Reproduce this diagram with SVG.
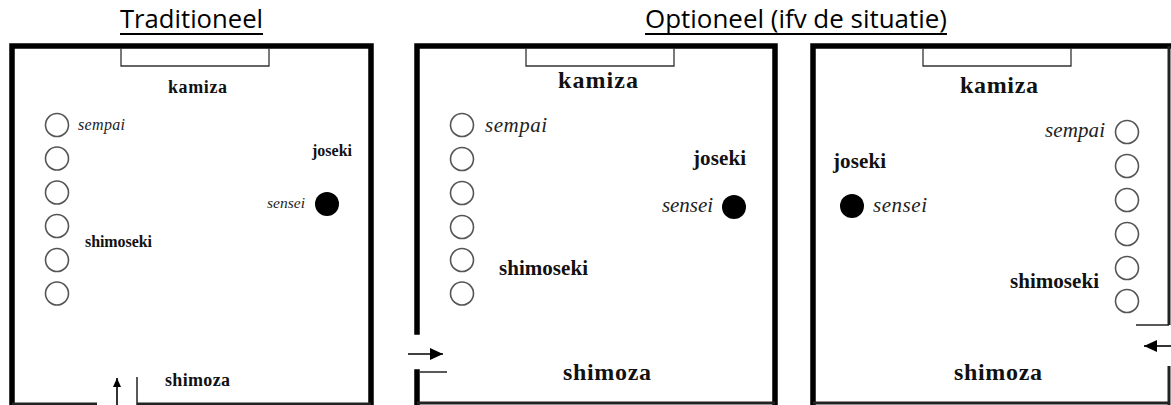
<svg xmlns="http://www.w3.org/2000/svg" width="1171" height="405" viewBox="0 0 1171 405">
<defs>
<style>
.title{font-family:"Open Sans","Liberation Sans",sans-serif;font-size:26px;fill:#000}
.ul{stroke:#000;stroke-width:2}
.wall{stroke:#000;stroke-width:5.5;fill:none;stroke-linecap:square}
.wallb{stroke:#222;stroke-width:3;fill:none}
.thin{stroke:#222;stroke-width:1.5;fill:none}
.kbox{fill:none;stroke:#333;stroke-width:1.3}
.b{font-family:"Liberation Serif","Times New Roman",serif;font-weight:bold;fill:#111}
.i{font-family:"Liberation Serif","Times New Roman",serif;font-style:italic;fill:#222}
.c{fill:#fff;stroke:#555;stroke-width:1.6}
.f{fill:#000}
.arr{stroke:#000;stroke-width:1.6;fill:none}
</style>
<marker id="ah" markerUnits="userSpaceOnUse" markerWidth="14" markerHeight="12" refX="13" refY="6" orient="auto">
<path d="M0,0 L13,6 L0,12 Z" fill="#000"/>
</marker>
<marker id="ahs" markerUnits="userSpaceOnUse" markerWidth="10" markerHeight="8" refX="9" refY="4" orient="auto">
<path d="M0,0 L9,4 L0,8 Z" fill="#000"/>
</marker>
</defs>
<rect width="1171" height="405" fill="#fff"/>

<g id="titles">
<text class="title" x="120" y="28" textLength="143" lengthAdjust="spacingAndGlyphs">Traditioneel</text>
<line class="ul" x1="120" y1="34" x2="263" y2="34"/>
<text class="title" x="645" y="28" textLength="302" lengthAdjust="spacingAndGlyphs">Optioneel (ifv de situatie)</text>
<line class="ul" x1="645" y1="34" x2="947" y2="34"/>
</g>

<g id="panel1">
<path class="wall" d="M12,405 L12,46 L371,46 L371,405"/>
<path class="wallb" d="M12,404 L97,404 M137,404 L371,404"/>
<path class="kbox" d="M121,48 L121,66 L269,66 L269,48"/>
<text class="b" x="168" y="93" font-size="18" textLength="59">kamiza</text>
<circle class="c" cx="57" cy="125" r="11.5"/>
<circle class="c" cx="57" cy="158.5" r="11.5"/>
<circle class="c" cx="57" cy="192.5" r="11.5"/>
<circle class="c" cx="57" cy="226" r="11.5"/>
<circle class="c" cx="57" cy="260" r="11.5"/>
<circle class="c" cx="57" cy="293.5" r="11.5"/>
<text class="i" x="78" y="130" font-size="16" textLength="47">sempai</text>
<text class="b" x="312" y="156" font-size="16" textLength="40">joseki</text>
<text class="i" x="267" y="208" font-size="15.5" textLength="38">sensei</text>
<circle class="f" cx="327" cy="204" r="12"/>
<text class="b" x="85" y="247" font-size="16" textLength="67">shimoseki</text>
<text class="b" x="165" y="386" font-size="18" textLength="65">shimoza</text>
<line class="thin" x1="137" y1="377" x2="137" y2="405"/>
</g>

<g id="panel2">
<path class="wall" d="M417,332 L417,46 L775,46 L775,405"/>
<path class="wall" d="M417,372 L417,405"/>
<path class="wallb" d="M417,403 L775,403"/>
<line class="thin" x1="420" y1="372" x2="447" y2="372"/>
<path class="kbox" d="M526,48 L526,66 L674,66 L674,48"/>
<text class="b" x="558" y="88" font-size="24" textLength="80">kamiza</text>
<circle class="c" cx="462" cy="125" r="11.5"/>
<circle class="c" cx="462" cy="159" r="11.5"/>
<circle class="c" cx="462" cy="193" r="11.5"/>
<circle class="c" cx="462" cy="227" r="11.5"/>
<circle class="c" cx="462" cy="260" r="11.5"/>
<circle class="c" cx="462" cy="293.5" r="11.5"/>
<text class="i" x="485" y="132" font-size="21" textLength="62">sempai</text>
<text class="b" x="693" y="165" font-size="21" textLength="53">joseki</text>
<text class="i" x="662" y="212" font-size="21" textLength="51">sensei</text>
<circle class="f" cx="734" cy="207" r="12"/>
<text class="b" x="499" y="275" font-size="21" textLength="89">shimoseki</text>
<text class="b" x="563" y="380" font-size="24" textLength="88">shimoza</text>
</g>

<g id="panel3">
<path class="wall" d="M813,405 L813,46 L1171,46"/>
<path class="wallb" d="M1169,46 L1169,325 M1169,366 L1169,405 M813,403 L1169,403"/>
<line class="thin" x1="1136" y1="325" x2="1169" y2="325"/>
<path class="kbox" d="M923,48 L923,66 L1071,66 L1071,48"/>
<text class="b" x="960" y="93" font-size="24" textLength="78">kamiza</text>
<circle class="c" cx="1127" cy="132" r="11.5"/>
<circle class="c" cx="1127" cy="166" r="11.5"/>
<circle class="c" cx="1127" cy="200" r="11.5"/>
<circle class="c" cx="1127" cy="234" r="11.5"/>
<circle class="c" cx="1127" cy="268" r="11.5"/>
<circle class="c" cx="1127" cy="301" r="11.5"/>
<text class="i" x="1045" y="137" font-size="21" textLength="60">sempai</text>
<text class="b" x="833" y="168" font-size="21" textLength="53">joseki</text>
<circle class="f" cx="852" cy="206" r="12"/>
<text class="i" x="873" y="212" font-size="21" textLength="54">sensei</text>
<text class="b" x="1010" y="288" font-size="21" textLength="89">shimoseki</text>
<text class="b" x="954" y="380" font-size="24" textLength="88">shimoza</text>
</g>

<g id="connectors">
<line class="arr" x1="117" y1="405" x2="117" y2="378" marker-end="url(#ahs)"/>
<line class="arr" x1="408" y1="354" x2="443" y2="354" marker-end="url(#ah)"/>
<line class="arr" x1="1171" y1="346" x2="1144" y2="346" marker-end="url(#ah)"/>
</g>
</svg>
